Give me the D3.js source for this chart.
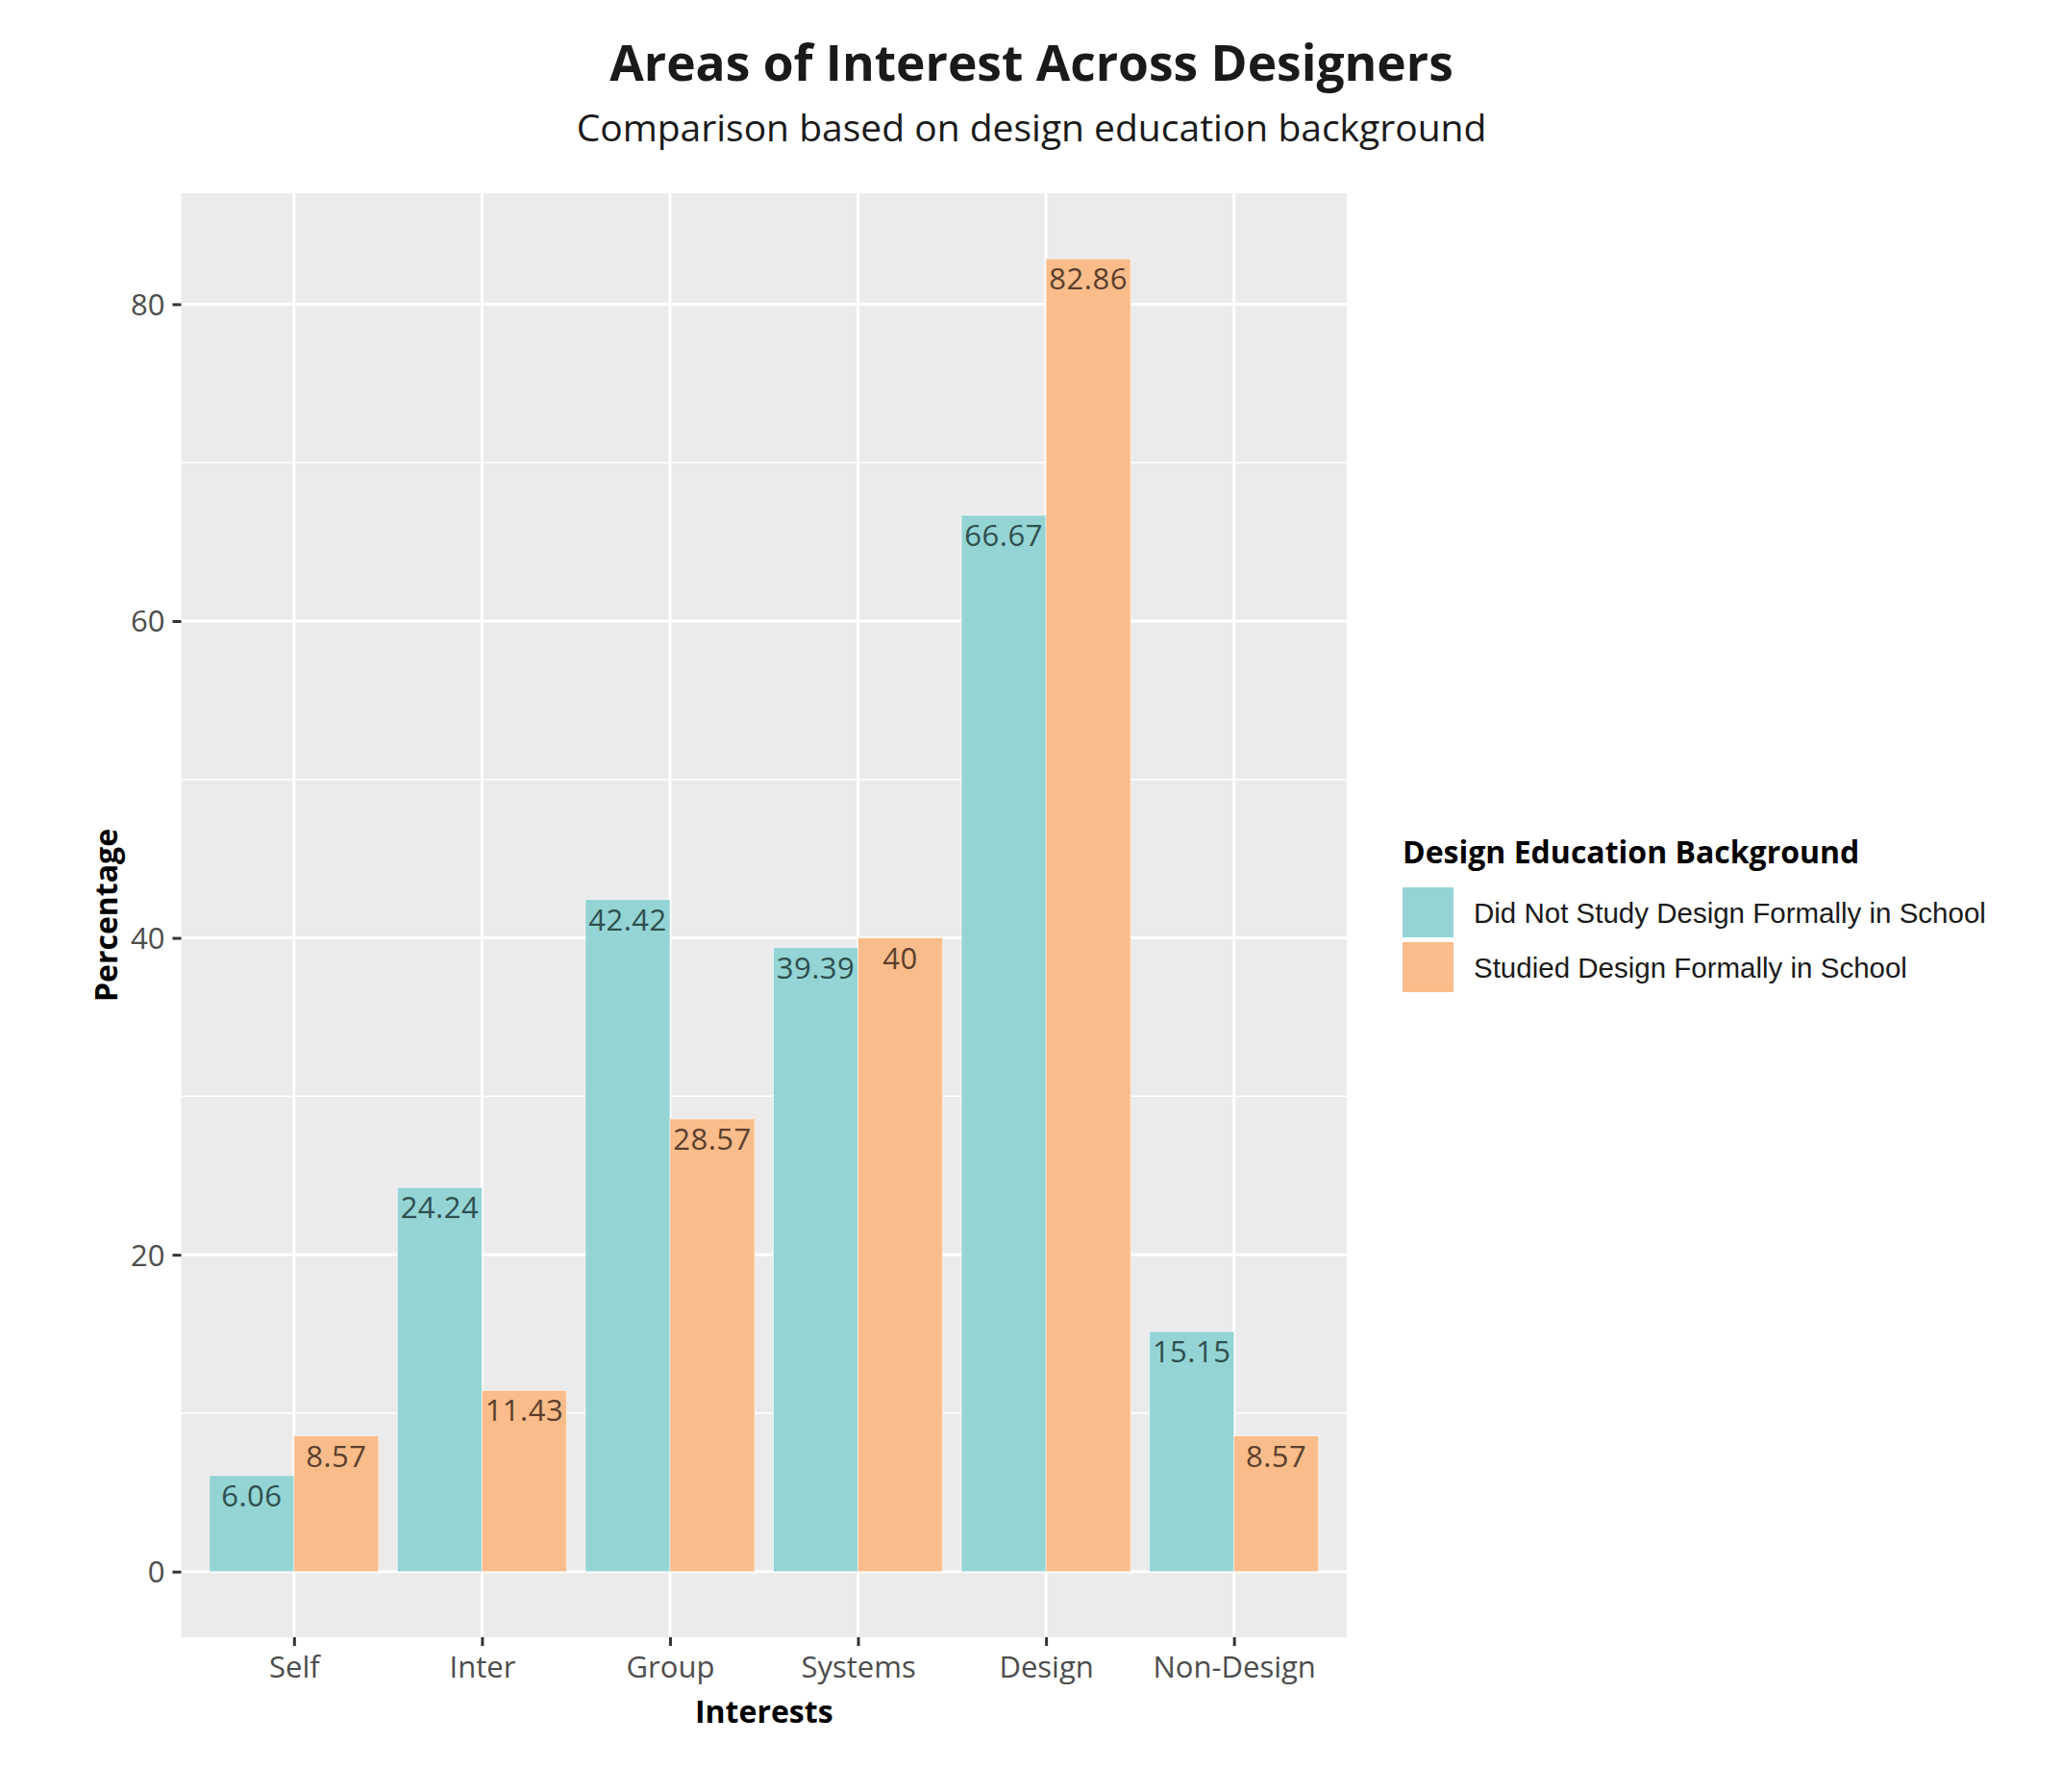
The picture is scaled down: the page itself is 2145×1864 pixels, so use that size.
<!DOCTYPE html>
<html>
<head>
<meta charset="utf-8">
<script src="https://cdn.jsdelivr.net/npm/d3@7"></script>
<style>
  body { margin: 0; background: #fff; }
  svg { display: block; }
</style>
</head>
<body>
<svg width="2145" height="1864"></svg>
<script>
var interests = ['Self', 'Inter', 'Group', 'Systems', 'Design', 'Non-Design'];
var groups = ['Did Not Study Design Formally in School', 'Studied Design Formally in School'];
var notStudied = [6.06, 24.24, 42.42, 39.39, 66.67, 15.15];
var studied = [8.57, 11.43, 28.57, 40, 82.86, 8.57];
var yTicks = [0, 20, 40, 60, 80];
var yMinor = [10, 30, 50, 70];

var colors = ['#94d4d4', '#f9bc8a'];
var labelColors = ['#2f4f4f', '#5b3f2c'];

function drawChart() {
  var svg = d3.select('svg');
  svg.selectAll('*').remove();

  var left = 188.5, right = 1401, top = 201, bottom = 1703;

  var rows = [];
  interests.forEach(function (name, i) {
    rows.push({ cat: name, grp: 0, value: notStudied[i] });
    rows.push({ cat: name, grp: 1, value: studied[i] });
  });

  var maxV = d3.max(rows, function (d) { return d.value; });
  var pad = maxV * 0.05;
  var y = d3.scaleLinear()
    .domain([0 - pad, maxV + pad])
    .range([bottom, top]);

  var x = d3.scalePoint()
    .domain(interests)
    .range([left, right])
    .padding(0.6);
  var step = x.step();
  var barW = step * 0.45;

  // panel
  svg.append('rect')
    .attr('x', left)
    .attr('y', top)
    .attr('width', right - left)
    .attr('height', bottom - top)
    .attr('fill', '#ebebeb');

  var grid = svg.append('g');
  grid.selectAll('line.minor')
    .data(yMinor)
    .enter()
    .append('line')
    .attr('x1', left)
    .attr('x2', right)
    .attr('y1', function (d) { return y(d); })
    .attr('y2', function (d) { return y(d); })
    .attr('stroke', '#fff')
    .attr('stroke-width', 1.5);
  grid.selectAll('line.major')
    .data(yTicks)
    .enter()
    .append('line')
    .attr('x1', left)
    .attr('x2', right)
    .attr('y1', function (d) { return y(d); })
    .attr('y2', function (d) { return y(d); })
    .attr('stroke', '#fff')
    .attr('stroke-width', 3);
  grid.selectAll('line.vert')
    .data(interests)
    .enter()
    .append('line')
    .attr('x1', function (d) { return x(d); })
    .attr('x2', function (d) { return x(d); })
    .attr('y1', top)
    .attr('y2', bottom)
    .attr('stroke', '#fff')
    .attr('stroke-width', 3);

  // bars
  var bx = function (d) { return x(d.cat) - barW + d.grp * barW; };
  svg.append('g')
    .selectAll('rect')
    .data(rows)
    .enter()
    .append('rect')
    .attr('x', bx)
    .attr('y', function (d) { return y(d.value); })
    .attr('width', barW)
    .attr('height', function (d) { return y(0) - y(d.value); })
    .attr('fill', function (d) { return colors[d.grp]; })
    .attr('stroke', 'rgba(255,255,255,0.5)')
    .attr('stroke-width', 1);

  svg.append('g')
    .selectAll('text')
    .data(rows)
    .enter()
    .append('text')
    .attr('x', function (d) { return bx(d) + barW / 2; })
    .attr('y', function (d) { return y(d.value) + 32; })
    .attr('text-anchor', 'middle')
    .attr('font-family', 'Open Sans')
    .attr('font-size', 31)
    .attr('letter-spacing', 0.5)
    .attr('fill', function (d) { return labelColors[d.grp]; })
    .text(function (d) { return d.value; });

  // axes
  var yAxis = svg.append('g')
    .attr('transform', 'translate(' + left + ',0)')
    .call(d3.axisLeft(y).tickValues(yTicks).tickSize(9).tickPadding(8));
  var xAxis = svg.append('g')
    .attr('transform', 'translate(0,' + bottom + ')')
    .call(d3.axisBottom(x).tickSize(9).tickPadding(12));
  [yAxis, xAxis].forEach(function (ax) {
    ax.select('.domain').remove();
    ax.selectAll('.tick line')
      .attr('stroke', '#333')
      .attr('stroke-width', 3);
    ax.selectAll('.tick text')
      .attr('font-family', 'Open Sans')
      .attr('font-size', 31)
      .attr('fill', '#4d4d4d');
  });
  yAxis.selectAll('.tick text').attr('dy', '0.35em');
  xAxis.selectAll('.tick text').attr('dy', '0.68em');

  svg.append('text')
    .attr('x', (left + right) / 2)
    .attr('y', 1792)
    .attr('text-anchor', 'middle')
    .attr('font-family', 'Open Sans')
    .attr('font-weight', 'bold')
    .attr('font-size', 32)
    .attr('fill', '#000')
    .text('Interests');

  svg.append('text')
    .attr('transform', 'translate(122,' + (top + bottom) / 2 + ') rotate(-90)')
    .attr('text-anchor', 'middle')
    .attr('font-family', 'Open Sans')
    .attr('font-weight', 'bold')
    .attr('font-size', 32)
    .attr('fill', '#000')
    .text('Percentage');

  // titles
  svg.append('text')
    .attr('x', 1073)
    .attr('y', 84)
    .attr('text-anchor', 'middle')
    .attr('font-family', 'Open Sans')
    .attr('font-weight', 'bold')
    .attr('font-size', 51.5)
    .attr('fill', '#1a1a1a')
    .text('Areas of Interest Across Designers');
  svg.append('text')
    .attr('x', 1073)
    .attr('y', 147)
    .attr('text-anchor', 'middle')
    .attr('font-family', 'Open Sans')
    .attr('font-size', 39)
    .attr('fill', '#1a1a1a')
    .text('Comparison based on design education background');

  // legend
  var lg = svg.append('g').attr('transform', 'translate(1459,0)');
  lg.append('text')
    .attr('x', 0)
    .attr('y', 898)
    .attr('font-family', 'Open Sans')
    .attr('font-weight', 'bold')
    .attr('font-size', 32)
    .attr('fill', '#000')
    .text('Design Education Background');
  var items = lg.selectAll('g.item')
    .data(groups)
    .enter()
    .append('g')
    .attr('transform', function (d, i) { return 'translate(0,' + (923 + i * 57) + ')'; });
  items.append('rect')
    .attr('width', 53)
    .attr('height', 52)
    .attr('fill', function (d, i) { return colors[i]; });
  items.append('text')
    .attr('x', 74)
    .attr('y', 37)
    .attr('font-family', 'Liberation Sans')
    .attr('font-size', 29.5)
    .attr('fill', '#1a1a1a')
    .text(function (d) { return d; });
}

drawChart();
</script>
</body>
</html>
